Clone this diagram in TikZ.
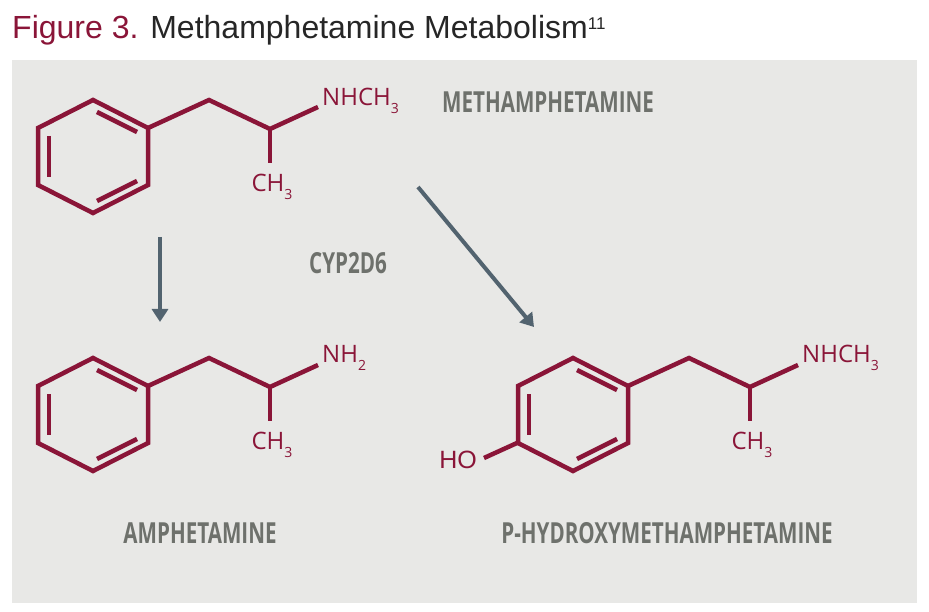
\documentclass[tikz,border=0pt]{standalone}
\usepackage{fontspec}
\setmainfont{Liberation Sans}
\newfontfamily\osans{Open Sans}
\usetikzlibrary{arrows.meta}
\definecolor{maroon}{HTML}{8A1538}
\definecolor{boxgray}{HTML}{E8E8E6}
\definecolor{arrowc}{HTML}{52636F}
\definecolor{labelc}{HTML}{6E716C}
\newcommand{\ringat}[2]{%
  \begin{scope}[shift={(#1,#2)}]
  \draw[bond,line join=miter] (0,-56)--(55,-28)--(55,29)--(0,57)--(-55,29)--(-55,-28)--cycle;
  \draw[bond] (4,-44)--(44,-24);
  \draw[bond] (-44,-20)--(-44,21);
  \draw[bond] (44,25)--(4,45);
  \end{scope}}
\newcommand{\sub}[1]{\raisebox{-8pt}{\fontsize{14}{14}\selectfont #1}}
\begin{document}
\begin{tikzpicture}[x=1pt,y=-1pt,
  bond/.style={draw=maroon,line width=4.5pt},
  chem/.style={text=maroon,font=\osans\fontsize{24}{24}\selectfont,inner sep=0},
  mname/.style={text=labelc,font=\osans\bfseries\fontsize{29}{29}\selectfont,inner sep=0,xscale=0.71},
  arr/.style={draw=arrowc,line width=4pt,-{Triangle[length=13pt,width=16pt]}}]
\useasboundingbox (0,0) rectangle (929,612);
\node[anchor=base west,inner sep=0,font=\fontsize{32}{32}\selectfont] (title) at (12,39)
  {\textcolor{maroon}{Figure 3.} \textcolor{black!85}{Methamphetamine Metabolism\textsuperscript{\fontsize{17}{17}\selectfont 11}}};
\fill[boxgray] (12,60) rectangle (917,603);
% molecule 1
\ringat{93}{156}
\draw[bond,line join=miter] (148,128)--(209,100)--(270,129)--(318,107);
\draw[bond] (270,129)--(270,163);
\node[chem,anchor=west] (n1) at (322,101) {NHCH\sub{3}};
\node[chem] (c1) at (272,187) {CH\sub{3}};
\node[mname] (meth) at (548,102) {METHAMPHETAMINE};
% molecule 2
\ringat{93}{414}
\draw[bond,line join=miter] (148,386)--(209,358)--(270,387)--(318,365);
\draw[bond] (270,387)--(270,421);
\node[chem,anchor=west] (n2) at (322,358) {NH\sub{2}};
\node[chem] (c2) at (272,445) {CH\sub{3}};
\node[mname] (amph) at (200,533) {AMPHETAMINE};
% molecule 3
\ringat{573}{414}
\draw[bond,line join=miter] (628,386)--(689,358)--(750,387)--(798,365);
\draw[bond] (750,387)--(750,421);
\draw[bond] (517,443)--(484,458);
\node[chem,anchor=west] (n3) at (802,358) {NHCH\sub{3}};
\node[chem] (c3) at (752,445) {CH\sub{3}};
\node[chem,font=\fontsize{25}{25}\selectfont] (ho) at (458,460) {HO};
\node[mname] (phm) at (667,533) {P-HYDROXYMETHAMPHETAMINE};
% arrows
\coordinate (a1s) at (160,237); \coordinate (a1e) at (160,322);
\coordinate (a2s) at (418,187); \coordinate (a2e) at (534,327);
\draw[arr] (a1s)--(a1e);
\draw[arr] (a2s)--(a2e);
\node[mname] (cyp) at (348,263) {CYP2D6};
\end{tikzpicture}
\end{document}
